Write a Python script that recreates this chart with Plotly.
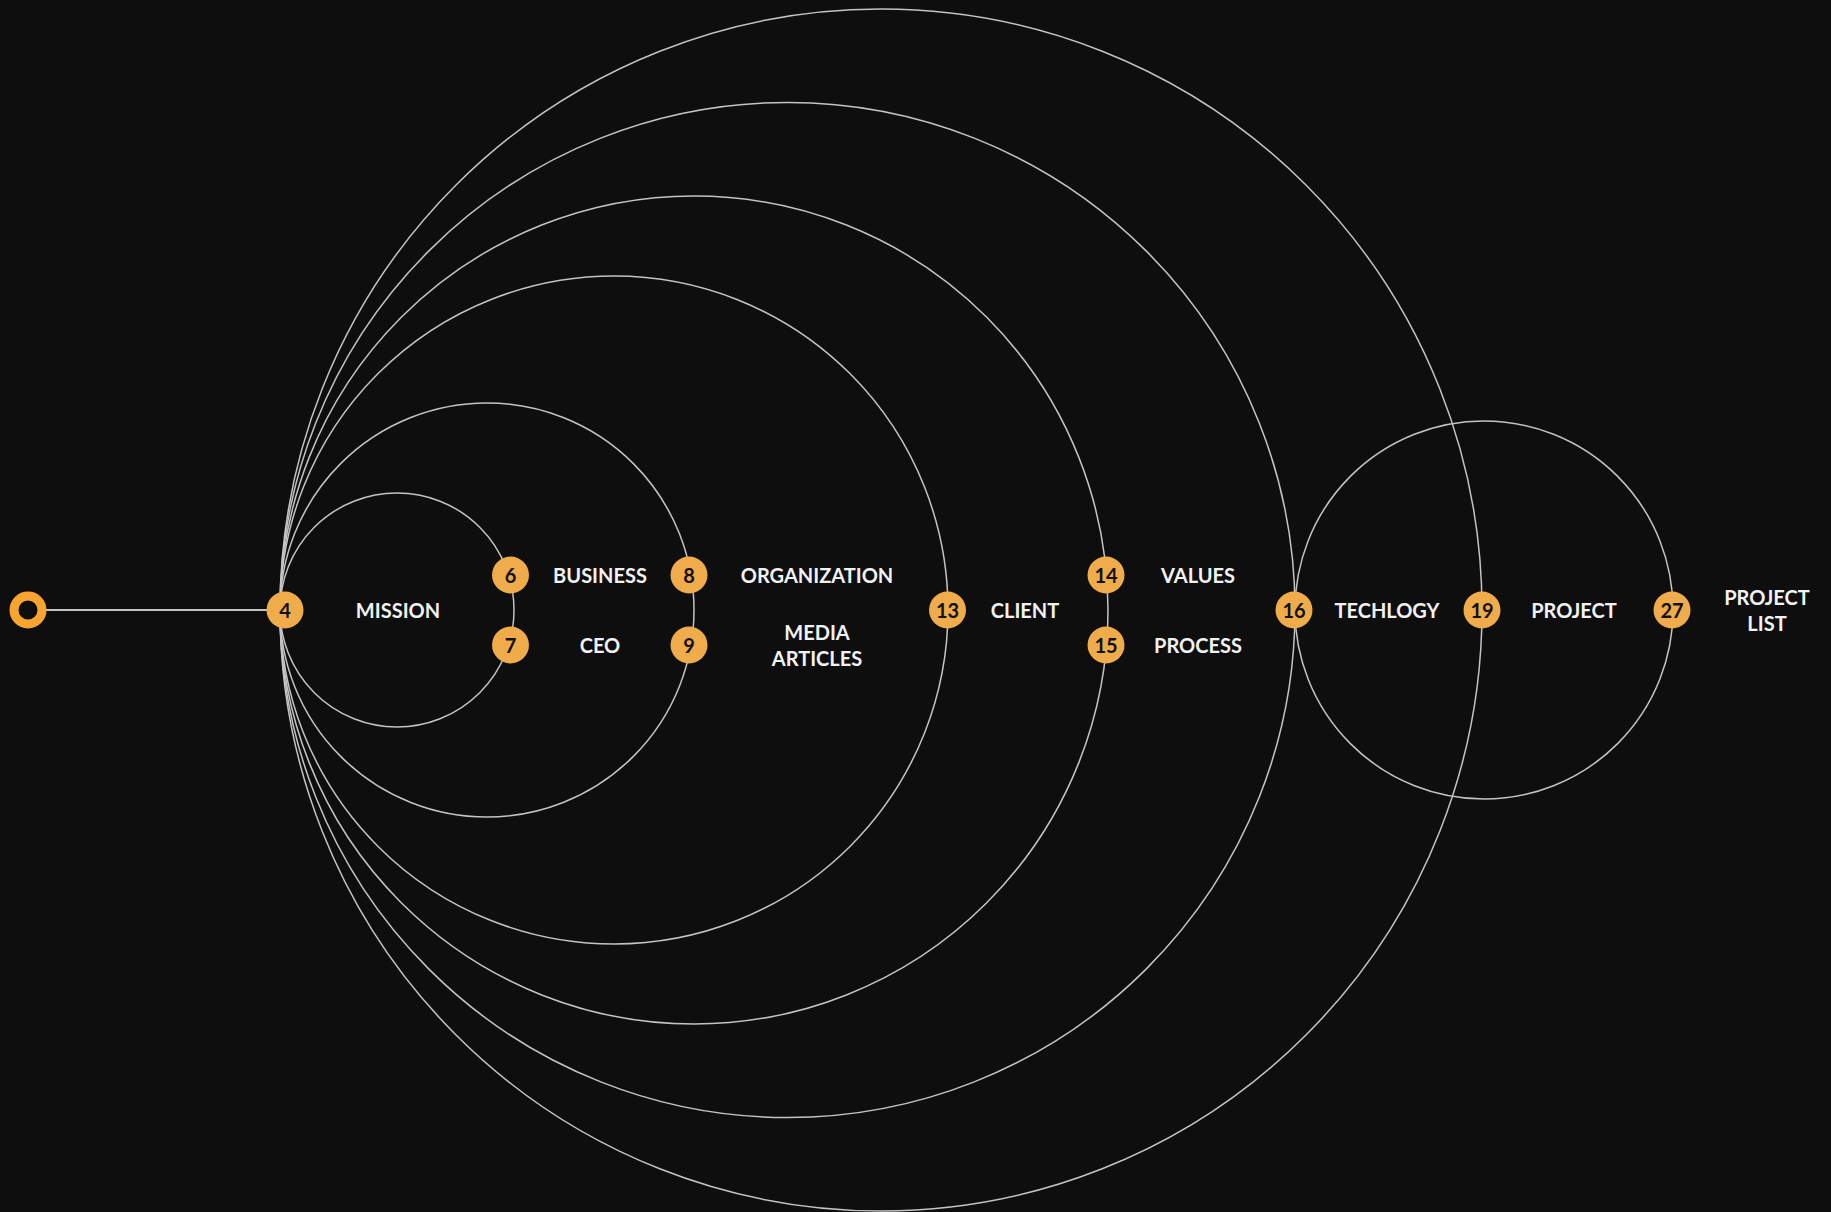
import plotly.graph_objects as go

# ---- data ----
node_ids = [4, 6, 7, 8, 9, 13, 14, 15, 16, 19, 27]
node_stage = [0, 1, 1, 2, 2, 3, 4, 4, 5, 6, 7]
node_row = [0, -1, 1, -1, 1, 0, -1, 1, 0, 0, 0]

label_texts = ["MISSION", "BUSINESS", "CEO", "ORGANIZATION", "MEDIA<br>ARTICLES",
               "CLIENT", "VALUES", "PROCESS", "TECHLOGY", "PROJECT", "PROJECT<br>LIST"]
label_stage = [0, 1, 1, 2, 2, 3, 4, 4, 5, 6, 7]
label_row = [0, -1, 1, -1, 1, 0, -1, 1, 0, 0, 0]

# circles: (from stage, to stage)
circle_links = [(0, 1), (0, 2), (0, 3), (0, 4), (0, 5), (0, 6), (5, 7)]

# ---- layout (pixel geometry) ----
W, H = 1831, 1212
CY = 610
ROW_DY = 35
TEXT_DY = 3
stage_x = [285, 510.5, 689, 947.5, 1106, 1294, 1482, 1672]
label_x = [398, 600, 817, 1025, 1198, 1387, 1574, 1767]
circle_left = [280, 280, 280, 280, 280, 280, 1295]
circle_right = [514, 694, 948, 1108, 1295, 1482, 1673]
start_x = 28

BG = "#0E0E0E"
ORANGE = "#F0AC4B"
RING = "#F7A52E"
LINE = "#C4C4C4"
TEXT = "#F2F2F2"
FONT = "Lato"

fig = go.Figure()

shapes = []
for (a, b), x0, x1 in zip(circle_links, circle_left, circle_right):
    r = (x1 - x0) / 2
    shapes.append(dict(type="circle", xref="x", yref="y", x0=x0, x1=x1,
                       y0=CY - r, y1=CY + r, line=dict(color=LINE, width=1.5),
                       fillcolor="rgba(0,0,0,0)", layer="below"))

# connector from start ring to first node
fig.add_trace(go.Scatter(x=[start_x, stage_x[0]], y=[CY, CY], mode="lines",
                         line=dict(color=LINE, width=2), hoverinfo="skip"))

# start ring
fig.add_trace(go.Scatter(x=[start_x], y=[CY], mode="markers",
                         marker=dict(size=28, color=BG, line=dict(color=RING, width=9)),
                         hoverinfo="skip"))

# nodes
nx = [stage_x[s] for s in node_stage]
ny = [CY + r * ROW_DY for r in node_row]
fig.add_trace(go.Scatter(x=nx, y=ny, mode="markers",
                         marker=dict(size=37, color=ORANGE, line=dict(width=0)),
                         hoverinfo="skip"))
fig.add_trace(go.Scatter(x=nx, y=[v + TEXT_DY for v in ny], mode="text",
                         text=[str(i) for i in node_ids], textposition="middle center",
                         textfont=dict(family=FONT, size=20, color="#111111", weight="bold"),
                         hoverinfo="skip"))

# labels
lx = [label_x[s] for s in label_stage]
ly = [CY + r * ROW_DY + TEXT_DY for r in label_row]
fig.add_trace(go.Scatter(x=lx, y=ly, mode="text", text=label_texts,
                         textposition="middle center",
                         textfont=dict(family=FONT, size=20, color=TEXT, weight="bold"),
                         hoverinfo="skip"))

fig.update_layout(
    width=W, height=H, margin=dict(l=0, r=0, t=0, b=0),
    paper_bgcolor=BG, plot_bgcolor=BG, showlegend=False, shapes=shapes,
    xaxis=dict(range=[0, W], visible=False, fixedrange=True),
    yaxis=dict(range=[H, 0], visible=False, fixedrange=True),
)

fig.write_html("out.html", config={"displayModeBar": False},
               post_script="document.body.style.margin='0';document.body.style.overflow='hidden';document.body.style.background='" + BG + "';")
